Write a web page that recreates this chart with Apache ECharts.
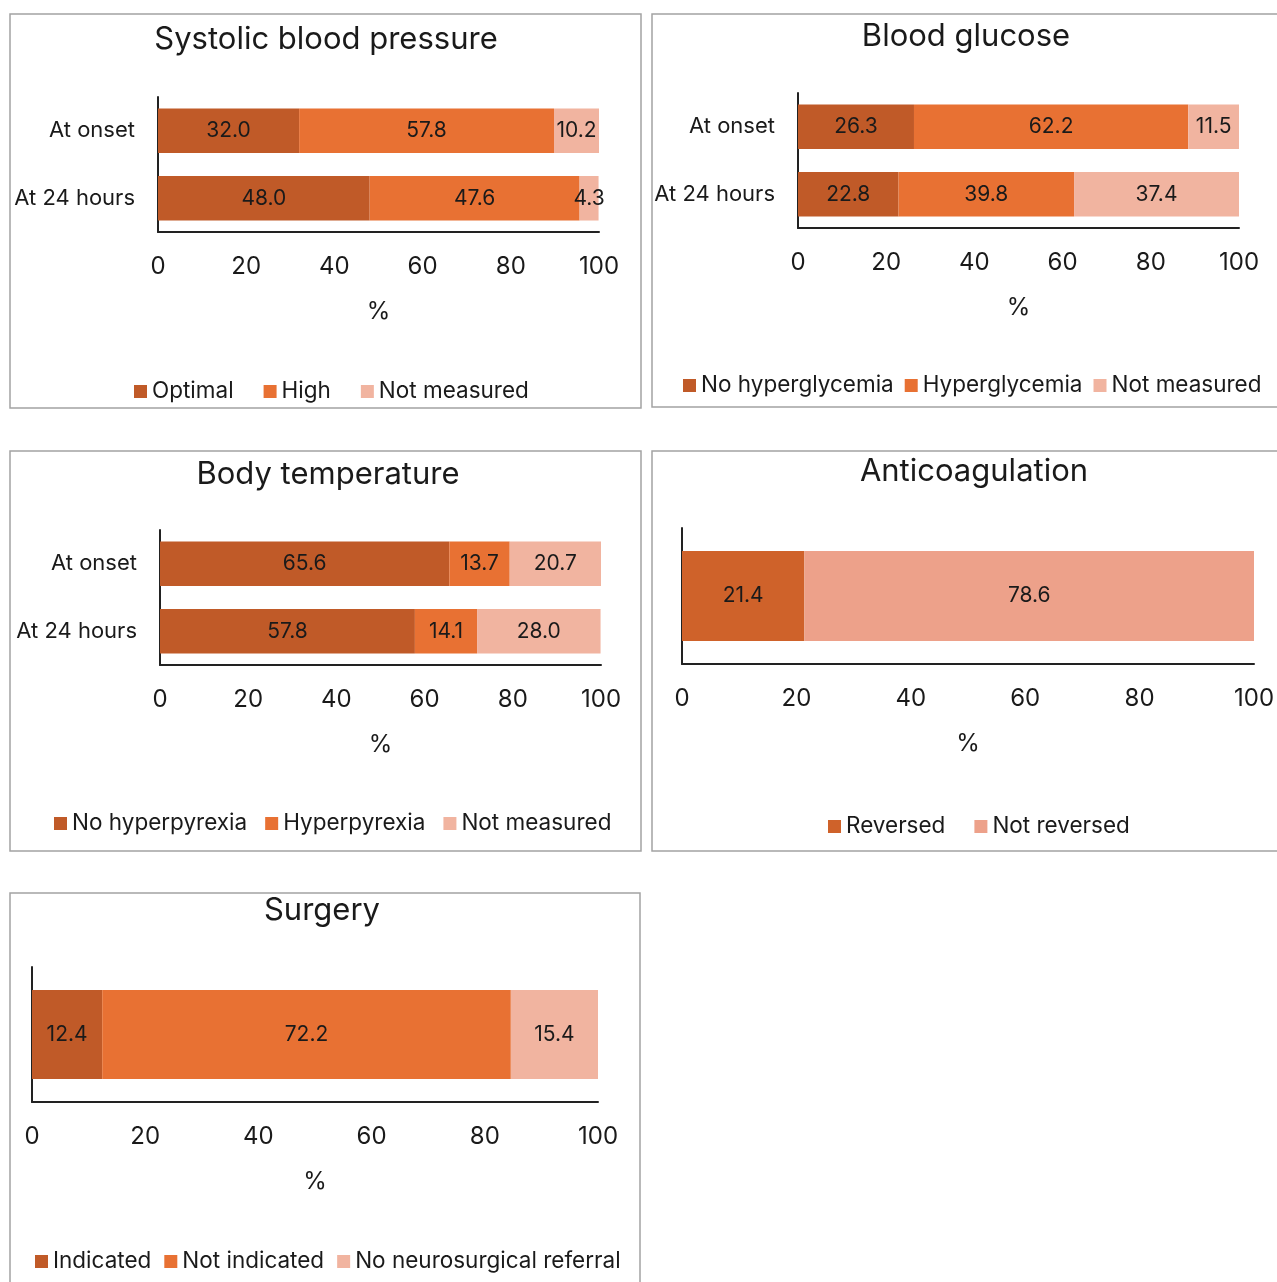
<!DOCTYPE html>
<html>
<head>
<meta charset="utf-8">
<script src="https://cdn.jsdelivr.net/npm/echarts@6/dist/echarts.min.js"></script>
<style>
  html, body { margin: 0; padding: 0; background: #fff; overflow: hidden; }
  #chart { width: 1277px; height: 1282px; }
</style>
</head>
<body>
<div id="chart"></div>
<script>
// ---- data ----
const timeCats = ['At onset', 'At 24 hours'];

const sbpOptimal = [32.0, 48.0];
const sbpHigh = [57.8, 47.6];
const sbpNotMeasured = [10.2, 4.3];

const glucoseNormal = [26.3, 22.8];
const glucoseHigh = [62.2, 39.8];
const glucoseNotMeasured = [11.5, 37.4];

const tempNormal = [65.6, 57.8];
const tempHigh = [13.7, 14.1];
const tempNotMeasured = [20.7, 28.0];

const anticoagCats = [''];
const anticoagReversed = [21.4];
const anticoagNotReversed = [78.6];

const surgeryCats = [''];
const surgeryIndicated = [12.4];
const surgeryNotIndicated = [72.2];
const surgeryNoReferral = [15.4];

const xTickMin = 0;
const xTickMax = 100;
const xTickStep = 20;

// ---- style ----
const FONT = 'Inter, "Open Sans", sans-serif';
const INK = '#1a1a1a';
const C_DARK = '#C05A28';
const C_MID = '#E87133';
const C_LIGHT = '#F1B4A0';
const C_REV = '#CF622A';
const C_NOTREV = '#EDA18A';

// panel layouts: grid box, title, legend
const panels = [
  { title: 'Systolic blood pressure', tx: 326, ty: 24,
    grid: { left: 158, top: 97, width: 441, height: 135 },
    cats: timeCats, legend: { left: 134, top: 380, gap: 30 },
    series: [['Optimal', sbpOptimal, C_DARK], ['High', sbpHigh, C_MID], ['Not measured', sbpNotMeasured, C_LIGHT]] },
  { title: 'Blood glucose', tx: 966, ty: 21,
    grid: { left: 798, top: 93, width: 441, height: 135 },
    cats: timeCats, legend: { left: 683, top: 374, gap: 11 },
    series: [['No hyperglycemia', glucoseNormal, C_DARK], ['Hyperglycemia', glucoseHigh, C_MID], ['Not measured', glucoseNotMeasured, C_LIGHT]] },
  { title: 'Body temperature', tx: 328, ty: 459,
    grid: { left: 160, top: 530, width: 441, height: 135 },
    cats: timeCats, legend: { left: 54, top: 812, gap: 18 },
    series: [['No hyperpyrexia', tempNormal, C_DARK], ['Hyperpyrexia', tempHigh, C_MID], ['Not measured', tempNotMeasured, C_LIGHT]] },
  { title: 'Anticoagulation', tx: 974, ty: 456,
    grid: { left: 682, top: 528, width: 572, height: 136 },
    cats: anticoagCats, legend: { left: 828, top: 815, gap: 29 },
    series: [['Reversed', anticoagReversed, C_REV], ['Not reversed', anticoagNotReversed, C_NOTREV]] },
  { title: 'Surgery', tx: 322, ty: 895,
    grid: { left: 32, top: 967, width: 566, height: 135 },
    cats: surgeryCats, legend: { left: 35, top: 1250, gap: 13 },
    series: [['Indicated', surgeryIndicated, C_DARK], ['Not indicated', surgeryNotIndicated, C_MID], ['No neurosurgical referral', surgeryNoReferral, C_LIGHT]] }
];

const frameStyle = { fill: 'none', stroke: '#A3A3A3', lineWidth: 1.5 };

const option = {
  animation: false,
  backgroundColor: '#fff',
  textStyle: { fontFamily: FONT },
  title: [], grid: [], xAxis: [], yAxis: [], legend: [], series: [],
  graphic: [
    // panel frames
    { type: 'rect', shape: { x: 10, y: 14, width: 631, height: 394 }, style: frameStyle },
    { type: 'rect', shape: { x: 652, y: 14, width: 640, height: 393 }, style: frameStyle },
    { type: 'rect', shape: { x: 10, y: 451, width: 631, height: 400 }, style: frameStyle },
    { type: 'rect', shape: { x: 652, y: 451, width: 640, height: 400 }, style: frameStyle },
    { type: 'rect', shape: { x: 10, y: 893, width: 630, height: 400 }, style: frameStyle }
  ]
};

panels.forEach((p, i) => {
  option.title.push({
    text: p.title, left: p.tx, top: p.ty, textAlign: 'center', padding: 0,
    textStyle: { fontFamily: FONT, fontSize: 31, fontWeight: 'normal', color: INK }
  });
  option.grid.push(Object.assign({ outerBoundsMode: 'none', containLabel: false }, p.grid));
  option.xAxis.push({
    gridIndex: i, type: 'value', min: xTickMin, max: xTickMax, interval: xTickStep,
    name: '%', nameLocation: 'middle', nameGap: 68,
    nameTextStyle: { fontFamily: FONT, fontSize: 24, color: INK },
    axisLine: { show: true, lineStyle: { color: '#222', width: 2 } },
    axisTick: { show: false },
    splitLine: { show: false },
    axisLabel: { fontFamily: FONT, fontSize: 24, color: INK, margin: 23, hideOverlap: false, showMinLabel: true, showMaxLabel: true }
  });
  option.yAxis.push({
    gridIndex: i, type: 'category', data: p.cats, inverse: true,
    axisLine: { show: true, lineStyle: { color: '#222', width: 2 } },
    axisTick: { show: false },
    splitLine: { show: false },
    axisLabel: { fontFamily: FONT, fontSize: 22, color: INK, margin: 23 }
  });
  option.legend.push({
    left: p.legend.left, top: p.legend.top, orient: 'horizontal',
    itemWidth: 13, itemHeight: 13, itemGap: p.legend.gap, icon: 'rect', padding: 0,
    selectedMode: false,
    textStyle: { fontFamily: FONT, fontSize: 22.5, color: INK },
    data: p.series.map(s => s[0])
  });
  p.series.forEach(([name, values, color]) => {
    option.series.push({
      type: 'bar', name: name, stack: 'panel' + i,
      xAxisIndex: i, yAxisIndex: i,
      data: values, barCategoryGap: '34%',
      itemStyle: { color: color },
      label: {
        show: true, position: 'inside', fontFamily: FONT, fontSize: 21, color: INK,
        formatter: (d) => d.value.toFixed(1)
      },
      emphasis: { disabled: true }
    });
  });
});

const chart = echarts.init(document.getElementById('chart'), null, { renderer: 'canvas' });
chart.setOption(option);
</script>
</body>
</html>
